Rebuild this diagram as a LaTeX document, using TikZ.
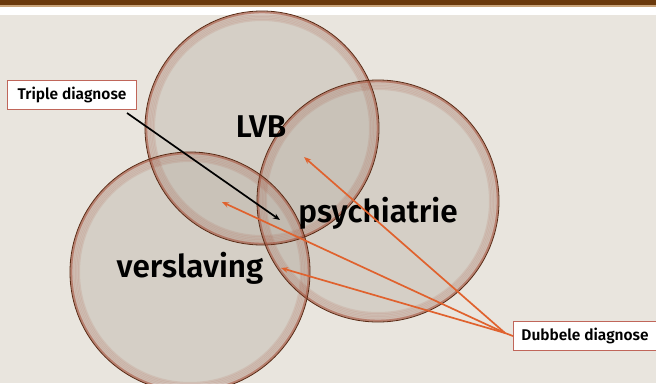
\documentclass[tikz,border=0pt]{standalone}
\usepackage{fontspec}
\setmainfont{Fira Sans}
\newfontfamily\medfont{Fira Sans SemiBold}
\usetikzlibrary{arrows.meta}
\definecolor{bgc}{HTML}{E9E5DE}
\definecolor{barc}{HTML}{6B3A0C}
\definecolor{barline}{HTML}{C9A47A}
\definecolor{circfill}{HTML}{B8B0A4}
\definecolor{rimdark}{HTML}{5A2A14}
\definecolor{rimglow}{HTML}{A8503A}
\definecolor{boxrim}{HTML}{C0665A}
\definecolor{arrorange}{HTML}{E0622E}
\tikzset{
  venn/.style={circle, draw=none, fill=circfill, fill opacity=0.4, minimum size=#1, inner sep=0pt},
  glow/.style={draw=rimglow, draw opacity=0.13, line width=#1},
  bigtxt/.style={font=\medfont\fontsize{31.5}{34}\selectfont, text=black, inner sep=0pt},
  labelbox/.style={draw=boxrim, line width=1.1pt, fill=white, font=\medfont\fontsize{15.5}{18}\selectfont, inner sep=0pt, anchor=north west},
  orangearrow/.style={draw=arrorange, line width=1.7pt, -{Stealth[length=7pt,width=5.5pt]}},
  blackarrow/.style={draw=black, line width=1.7pt, -{Stealth[length=7pt,width=5.5pt]}}
}
\begin{document}
\begin{tikzpicture}[x=1pt,y=-1pt]
\useasboundingbox (0,0) rectangle (656,383);
\fill[bgc] (0,0) rectangle (656,383);
\fill[white] (0,6) rectangle (656,15);
\fill[barc] (0,0) rectangle (656,5);
\fill[barline] (0,5) rectangle (656,6.5);
% circles
\node[venn=234pt] (lvb) at (262,128) {};
\node[venn=242pt] (psy) at (378,201) {};
\node[venn=240pt] (ver) at (190,272) {};
% inner glow rims
\foreach \c/\r in {{(262,128)}/117,{(378,201)}/121,{(190,272)}/120}{
  \foreach \d in {1.5,3,4.5,6,7.5,9}{
    \draw[glow=2pt] \c circle[radius=\r-\d];
  }
  \draw[draw=rimglow, draw opacity=0.55, line width=2pt] \c circle[radius=\r-1.2];
  \draw[draw=rimdark, line width=0.8pt] \c circle[radius=\r];
}
% labels
\node[bigtxt] (tlvb) at (261,127) {LVB};
\node[bigtxt] (tpsy) at (378,213) {psychiatrie};
\node[bigtxt] (tver) at (190,268) {verslaving};
% boxes
\node[labelbox, minimum width=129pt, minimum height=29pt] (triple) at (7,80) {Triple diagnose};
\node[labelbox, minimum width=143pt, minimum height=29pt] (dubbel) at (513,321) {Dubbele diagnose};
% arrow targets
\coordinate (t0) at (280,220);
\coordinate (t1) at (304,157);
\coordinate (t2) at (222,202);
\coordinate (t3) at (281,268);
\coordinate (tstart) at (127,113);
\coordinate (dstart) at (505,333);
\draw[blackarrow] (tstart) -- (t0);
\draw[orangearrow] (dstart) -- (t1);
\draw[orangearrow] (dstart) -- (t2);
\draw[orangearrow] (dstart) -- (t3);
\draw[draw=arrorange, line width=1.7pt] (dstart) -- (dubbel.west);
\end{tikzpicture}
\end{document}
